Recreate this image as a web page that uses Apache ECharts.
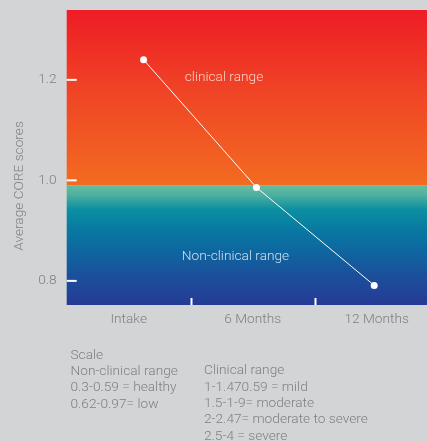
<!DOCTYPE html>
<html>
<head>
<meta charset="utf-8">
<script src="https://cdn.jsdelivr.net/npm/echarts@6/dist/echarts.min.js"></script>
<style>
html,body{margin:0;padding:0;background:#d3d4d6;}
#chart{width:427px;height:442px;}
</style>
</head>
<body>
<div id="chart"></div>
<script>
// ---- data ----
const categories = ['Intake', '6 Months', '12 Months'];
const scores = [1.24, 0.986, 0.791];
const pointPositions = [0.62, 1.53, 2.48]; // position of each point along the time axis (bands 0..3)
const yTickValues = [0.8, 1.0, 1.2];
const clinicalThreshold = 0.99;
const yMin = 0.752, yMax = 1.339;
const zoneLabels = ['clinical range', 'Non-clinical range'];
const scaleLeft = ['Scale', 'Non-clinical range', '0.3-0.59 = healthy', '0.62-0.97= low'];
const scaleRight = ['Clinical range', '1-1.470.59 = mild', '1.5-1-9= moderate', '2-2.47= moderate to severe', '2.5-4 = severe'];
const yAxisName = 'Average CORE scores';

// ---- chart ----
const FONT = 'Roboto, "Noto Sans", sans-serif';
const FS = 13.7;
const textColor = '#7f8083';
const chart = echarts.init(document.getElementById('chart'));

const graphics = [];
graphics.push({
  type: 'text', x: 20, y: 186, rotation: Math.PI / 2, z: 100,
  style: { text: yAxisName, fill: textColor, font: '300 ' + FS + 'px ' + FONT, align: 'center', verticalAlign: 'middle' }
});
graphics.push({
  type: 'text', x: 224, y: 78, z: 100,
  style: { text: zoneLabels[0], fill: '#fbd3c6', font: '300 ' + FS + 'px ' + FONT, align: 'center', verticalAlign: 'middle' }
});
graphics.push({
  type: 'text', x: 235.5, y: 257, z: 100,
  style: { text: zoneLabels[1], fill: '#cde0ee', font: '300 ' + FS + 'px ' + FONT, align: 'center', verticalAlign: 'middle' }
});
const LH = 16.3;
scaleLeft.forEach((t, i) => graphics.push({
  type: 'text', x: 70.5, y: 355.3 + i * LH, z: 100,
  style: { text: t, fill: textColor, font: '300 ' + FS + 'px ' + FONT, align: 'left', verticalAlign: 'middle' }
}));
scaleRight.forEach((t, i) => graphics.push({
  type: 'text', x: 204, y: 371 + i * LH, z: 100,
  style: { text: t, fill: textColor, font: '300 ' + FS + 'px ' + FONT, align: 'left', verticalAlign: 'middle' }
}));

const option = {
  backgroundColor: '#d3d4d6',
  animation: false,
  grid: { left: 66.7, top: 10, width: 372, bottom: 137, containLabel: false, outerBoundsMode: 'none' },
  xAxis: [
    {
      type: 'category', data: categories, boundaryGap: true,
      axisLine: { show: false }, axisTick: { show: false },
      axisLabel: { color: textColor, fontSize: FS, fontFamily: FONT, fontWeight: 300, margin: 8 }
    },
    { type: 'value', min: 0, max: categories.length, show: false }
  ],
  yAxis: {
    type: 'value', min: yMin, max: yMax,
    splitLine: { show: false }, axisLine: { show: false }, axisTick: { show: false },
    axisLabel: {
      color: textColor, fontSize: FS, fontFamily: FONT, fontWeight: 300, margin: 10,
      showMinLabel: false, showMaxLabel: false,
      formatter: v => yTickValues.some(t => Math.abs(t - v) < 1e-6) ? v.toFixed(1) : ''
    }
  },
  graphic: { elements: graphics, z: 100 },
  series: [
    {
      type: 'line', xAxisIndex: 1, yAxisIndex: 0, z: 5,
      data: scores.map((s, i) => [pointPositions[i], s]),
      symbol: 'circle', symbolSize: 7, showSymbol: true,
      lineStyle: { color: '#ffffff', width: 1 },
      itemStyle: { color: '#ffffff' },
      markArea: {
        silent: true,
        data: [
          [{ yAxis: clinicalThreshold, itemStyle: { color: new echarts.graphic.LinearGradient(0, 0, 0, 1, [
              { offset: 0, color: '#ee1c26' }, { offset: 0.5, color: '#f04725' }, { offset: 1, color: '#f36b21' }]) } },
           { yAxis: yMax }],
          [{ yAxis: yMin, itemStyle: { color: new echarts.graphic.LinearGradient(0, 0, 0, 1, [
              { offset: 0, color: '#68bca1' }, { offset: 0.08, color: '#4eb0a0' }, { offset: 0.2, color: '#0c8fa1' },
              { offset: 0.38, color: '#0878a2' }, { offset: 0.55, color: '#0f66a0' }, { offset: 0.75, color: '#1b509b' },
              { offset: 1, color: '#253a96' }]) } },
           { yAxis: clinicalThreshold }]
        ]
      }
    },
    {
      // y-axis tick marks drawn inside the plot
      type: 'custom', xAxisIndex: 0, yAxisIndex: 0, z: 4, silent: true,
      encode: { x: 0, y: 1 },
      data: yTickValues.map(v => [categories[0], v]),
      renderItem: (params, api) => {
        const y = api.coord([api.value(0), api.value(1)])[1];
        const x0 = params.coordSys.x;
        return { type: 'line', shape: { x1: x0, y1: y, x2: x0 + 10, y2: y }, style: { stroke: '#ffffff', lineWidth: 2 } };
      }
    },
    {
      // x-axis boundary tick marks between categories
      type: 'custom', xAxisIndex: 0, yAxisIndex: 0, z: 4, silent: true,
      encode: { x: 0, y: 1 },
      data: categories.slice(1).map(c => [c, yMin]),
      renderItem: (params, api) => {
        const c = api.coord([api.value(0), api.value(1)]);
        const band = api.size([1, 0])[0];
        const x = Math.round(c[0] - band / 2) + 0.5;
        return { type: 'line', shape: { x1: x, y1: c[1] - 7, x2: x, y2: c[1] }, style: { stroke: '#ffffff', lineWidth: 2 } };
      }
    }
  ]
};
chart.setOption(option);
</script>
</body>
</html>
